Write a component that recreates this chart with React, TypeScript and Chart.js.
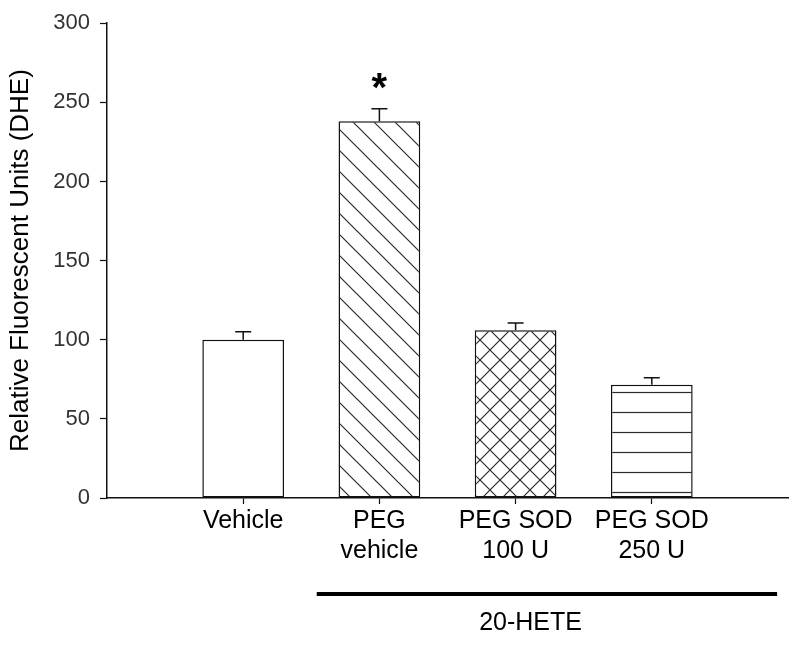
import React, { useEffect, useRef } from 'react';
import { Chart, registerables } from 'chart.js';

Chart.register(...registerables);

// ---- data ----
const categories: (string | string[])[] = ['', 'Vehicle', ['PEG', 'vehicle'], ['PEG SOD', '100 U'], ['PEG SOD', '250 U'], ''];
const means: (number | null)[] = [null, 100, 238, 106, 71.5, null];
const errors: (number | null)[] = [null, 5, 8, 4.5, 4.5, null];
const significance: string[] = ['', '', '*', '', '', ''];
const fills: string[] = ['none', 'solid', 'diagonal', 'crosshatch', 'horizontal', 'none'];
const yTickValues: number[] = [0, 50, 100, 150, 200, 250, 300];
const yTitle = 'Relative Fluorescent Units (DHE)';
const groupLabel = '20-HETE';
const groupRange: number[] = [1.54, 4.92]; // in category positions
const groupLabelPos = 3.11;

const FONT = '"Liberation Sans", Arial, sans-serif';

function makePattern(kind: string): CanvasPattern | string {
  if (kind === 'none' || kind === 'solid') return '#ffffff';
  const s = kind === 'diagonal' ? 21 : 20;
  const c = document.createElement('canvas');
  c.width = s;
  c.height = s;
  const g = c.getContext('2d')!;
  g.fillStyle = '#ffffff';
  g.fillRect(0, 0, s, s);
  g.strokeStyle = '#2a2a2a';
  g.lineWidth = 1.2;
  g.beginPath();
  if (kind === 'diagonal' || kind === 'crosshatch') {
    g.moveTo(-2, -2); g.lineTo(s + 2, s + 2);
    g.moveTo(-2, s - 2); g.lineTo(2, s + 2);
    g.moveTo(s - 2, -2); g.lineTo(s + 2, 2);
  }
  if (kind === 'crosshatch') {
    g.moveTo(-2, s + 2); g.lineTo(s + 2, -2);
    g.moveTo(-2, 2); g.lineTo(2, -2);
    g.moveTo(s - 2, s + 2); g.lineTo(s + 2, s - 2);
  }
  if (kind === 'horizontal') {
    g.moveTo(0, 12.5); g.lineTo(s, 12.5);
  }
  g.stroke();
  const p = (document.createElement('canvas').getContext('2d') as CanvasRenderingContext2D).createPattern(c, 'repeat');
  return p || '#ffffff';
}

const annotations = {
  id: 'annotations',
  afterDatasetsDraw(chart: any) {
    const { ctx, chartArea } = chart;
    const x = chart.scales.x;
    const y = chart.scales.y;
    ctx.save();
    means.forEach((m, i) => {
      if (m == null) return;
      const err = errors[i] || 0;
      const px = x.getPixelForValue(i);
      const top = y.getPixelForValue(m);
      const ey = y.getPixelForValue(m + err);
      ctx.strokeStyle = '#111';
      ctx.lineWidth = 1.5;
      ctx.beginPath();
      ctx.moveTo(px, top);
      ctx.lineTo(px, ey);
      ctx.moveTo(px - 8, ey);
      ctx.lineTo(px + 8, ey);
      ctx.stroke();
      if (significance[i]) {
        ctx.fillStyle = '#000';
        ctx.font = 'bold 40px ' + FONT;
        ctx.textAlign = 'center';
        ctx.textBaseline = 'alphabetic';
        ctx.fillText(significance[i], px, ey - 8);
      }
    });
    const bx0 = x.getPixelForValue(groupRange[0]);
    const bx1 = x.getPixelForValue(groupRange[1]);
    const by = chartArea.bottom + 96;
    ctx.strokeStyle = '#000';
    ctx.lineWidth = 4;
    ctx.beginPath();
    ctx.moveTo(bx0, by);
    ctx.lineTo(bx1, by);
    ctx.stroke();
    ctx.fillStyle = '#000';
    ctx.font = '25px ' + FONT;
    ctx.textAlign = 'center';
    ctx.textBaseline = 'middle';
    ctx.fillText(groupLabel, x.getPixelForValue(groupLabelPos), by + 29);
    ctx.restore();
  },
};

export default function App() {
  const ref = useRef<HTMLCanvasElement>(null);
  useEffect(() => {
    if (!ref.current) return;
    const bg = fills.map(makePattern);
    const chart = new Chart(ref.current, {
      type: 'bar',
      data: {
        labels: categories as any,
        datasets: [
          {
            data: means as any,
            backgroundColor: bg as any,
            borderColor: '#111',
            borderWidth: 1.5,
            borderSkipped: false,
            categoryPercentage: 1,
            barPercentage: 0.6,
          },
        ],
      },
      options: {
        animation: false,
        responsive: false,
        devicePixelRatio: 1,
        layout: { padding: { top: 21, right: 12, bottom: 0, left: 0 } },
        plugins: { legend: { display: false }, tooltip: { enabled: false } },
        scales: {
          x: {
            offset: false,
            border: { display: true, color: '#111', width: 1.5 },
            grid: {
              offset: false,
              drawOnChartArea: false,
              drawTicks: true,
              tickLength: 6,
              tickWidth: 1.2,
              color: (c: any) => (categories[c.index] === '' ? 'rgba(0,0,0,0)' : '#111'),
            },
            ticks: {
              autoSkip: false,
              maxRotation: 0,
              padding: 2,
              color: '#000',
              font: { family: FONT, size: 25, lineHeight: 1.2 },
            },
            afterFit: (s: any) => { s.height = 150; },
          },
          y: {
            min: 0,
            max: 300,
            border: { display: true, color: '#111', width: 1.5 },
            grid: { drawOnChartArea: false, drawTicks: true, tickLength: 7, tickWidth: 1.2, color: '#111' },
            afterBuildTicks: (s: any) => { s.ticks = yTickValues.map((v) => ({ value: v })); },
            ticks: {
              padding: 10,
              color: '#333',
              font: { family: FONT, size: 22 },
            },
            title: {
              display: true,
              text: yTitle,
              color: '#000',
              font: { family: FONT, size: 26 },
              padding: { top: 5, bottom: 0 },
            },
            afterFit: (s: any) => { s.width = 107; },
          },
        },
      },
      plugins: [annotations],
    });
    return () => chart.destroy();
  }, []);
  return (
    <div style={{ position: 'absolute', left: 0, top: 0, width: 800, height: 648, background: '#fff' }}>
      <canvas ref={ref} width={800} height={648} />
    </div>
  );
}
